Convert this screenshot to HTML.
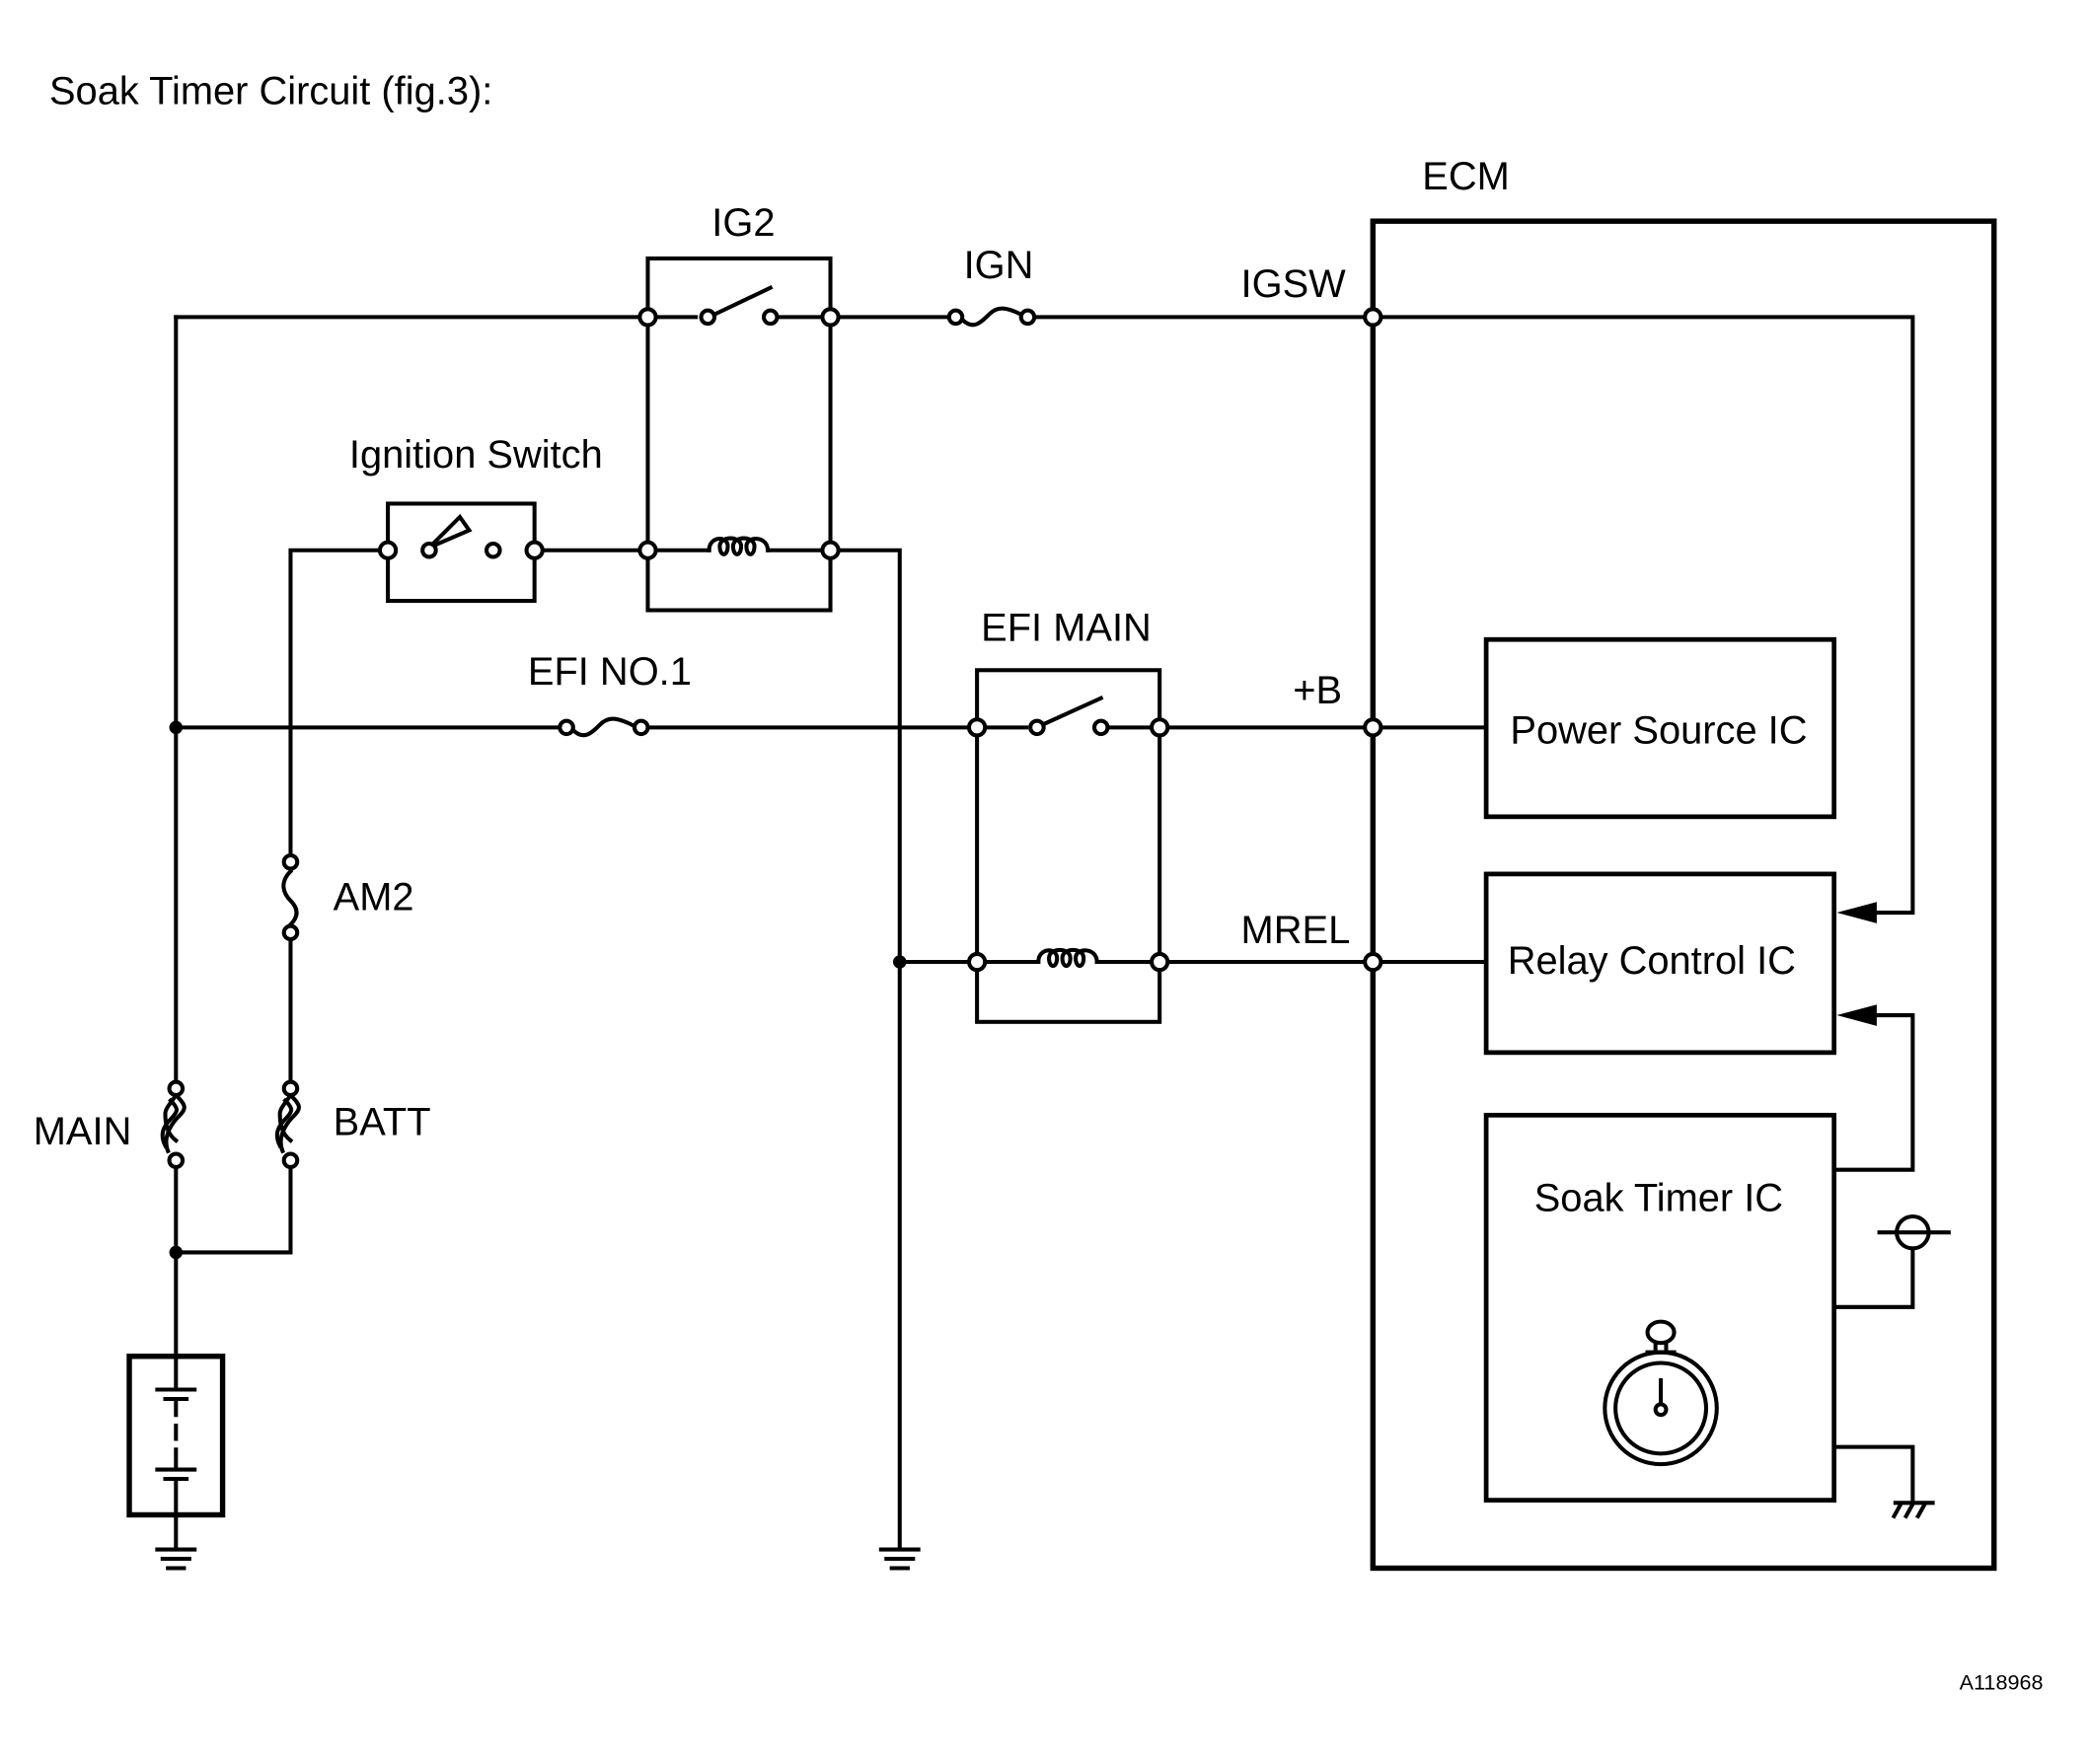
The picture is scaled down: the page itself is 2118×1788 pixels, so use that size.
<!DOCTYPE html>
<html><head><meta charset="utf-8"><style>
html,body{margin:0;padding:0;background:#fff;}
svg{display:block;}
text{font-family:"Liberation Sans",Arial,sans-serif;fill:#000;}
</style></head><body>
<svg width="2118" height="1788" viewBox="0 0 1568 1324" preserveAspectRatio="none" xmlns="http://www.w3.org/2000/svg">
<g fill="none" stroke="#000" stroke-width="3" stroke-linecap="square">
<path d="M132 238V815M132 872V1018M132 1137V1162"/>
<path d="M132 940H218V872M218 815V700M218 647V413H291"/>
<path d="M132 238H486M486 238H522M584 238H623M623 238H712M776 238H1030M1030 238H1435V685H1395"/>
<path d="M401 413H486M486 413H532M576 413H623M623 413H675V1162"/>
<path d="M132 546H420M486 546H733M733 546H770M830 546H870M870 546H1115"/>
<path d="M675 722H733M733 722H779M823 722H870M870 722H1115"/>
<rect x="486" y="194" width="137" height="264"/>
<rect x="733" y="503" width="137" height="264"/>
<rect x="291" y="378" width="110" height="73"/>
<rect x="1030" y="166" width="466" height="1011" stroke-width="4"/>
<rect x="1115" y="480" width="261" height="133" stroke-width="3.5"/>
<rect x="1115" y="656" width="261" height="134" stroke-width="3.5"/>
<rect x="1115" y="837" width="261" height="289" stroke-width="3.5"/>
<path d="M1376 878H1435V762H1395"/>
<path d="M1376 981H1435V937M1410 925H1462"/>
<circle cx="1435" cy="925" r="12"/>
<path d="M1376 1086H1435V1128M1422 1128H1450M1426 1129l-5 9M1435 1129l-5 9M1444 1129l-5 9"/>
<path d="M536 236L578 216"/>
<path d="M782 544L826 524"/>
<path d="M532 413C532 402 546 402 546 410C546 418 540 418 540 410C540 402 556 402 556 410C556 418 550 418 550 410C550 402 566 402 566 410C566 418 560 418 560 410C560 402 576 402 576 413"/>
<path d="M779 722C779 711 793 711 793 719C793 727 787 727 787 719C787 711 803 711 803 719C803 727 797 727 797 719C797 711 813 711 813 719C813 727 807 727 807 719C807 711 823 711 823 722"/>
<path d="M722 240c8 8 14 2 20-4s12-6 24 0"/>
<path d="M430 548c8 8 14 2 20-4s12-6 24 0"/>
<path d="M218 654c-8 8-6 16 0 22s6 12 0 18"/>
<path d="M132 822c8 8 8 10 2 16s-12 16-8 26M132 822c-4 6-8 10-8 14s0 14 8 20M128 826c6 6 6 8 0 14s-8 12-4 20"/>
<path d="M218 822c8 8 8 10 2 16s-12 16-8 26M218 822c-4 6-8 10-8 14s0 14 8 20M214 826c6 6 6 8 0 14s-8 12-4 20"/>
<rect x="97" y="1018" width="70" height="119" stroke-width="4"/>
<path d="M132 1018V1043M118 1043H146M124 1050H140M132 1050V1062M132 1070V1080M132 1088V1103M118 1103H146M124 1110H140M132 1110V1137"/>
<path d="M118 1163H146M122 1170H142M126 1177H138"/>
<path d="M661 1163H689M665 1170H685M669 1177H681"/>
<circle cx="1246" cy="1057" r="42"/>
<circle cx="1246" cy="1057" r="34"/>
<ellipse cx="1246" cy="1000" rx="10" ry="8"/>
<path d="M1242 1008V1015M1250 1008V1015M1236 1015H1256"/>
<path d="M1246 1053V1036"/>
<circle cx="1246" cy="1058" r="4"/>
</g>
<path d="M322 411L345 388L352 398Z" fill="none" stroke="#000" stroke-width="3"/>
<path d="M1378 685L1408 677V693Z M1378 762L1408 754V770Z" fill="#000"/>
<g fill="#000"><circle cx="132" cy="546" r="5"/><circle cx="132" cy="940" r="5"/><circle cx="675" cy="722" r="5"/></g>
<g fill="#fff" stroke="#000" stroke-width="3">
<circle cx="486" cy="238" r="6"/><circle cx="623" cy="238" r="6"/><circle cx="531" cy="238" r="5"/><circle cx="578" cy="238" r="5"/>
<circle cx="486" cy="413" r="6"/><circle cx="623" cy="413" r="6"/>
<circle cx="291" cy="413" r="6"/><circle cx="401" cy="413" r="6"/><circle cx="322" cy="413" r="5"/><circle cx="370" cy="413" r="5"/>
<circle cx="717" cy="238" r="5"/><circle cx="771" cy="238" r="5"/>
<circle cx="425" cy="546" r="5"/><circle cx="481" cy="546" r="5"/>
<circle cx="733" cy="546" r="6"/><circle cx="870" cy="546" r="6"/><circle cx="778" cy="546" r="5"/><circle cx="826" cy="546" r="5"/>
<circle cx="733" cy="722" r="6"/><circle cx="870" cy="722" r="6"/>
<circle cx="1030" cy="238" r="6"/><circle cx="1030" cy="546" r="6"/><circle cx="1030" cy="722" r="6"/>
<circle cx="218" cy="647" r="5"/><circle cx="218" cy="700" r="5"/>
<circle cx="218" cy="817" r="5"/><circle cx="218" cy="871" r="5"/>
<circle cx="132" cy="817" r="5"/><circle cx="132" cy="871" r="5"/>
</g>
<g font-size="29.5">
<text x="37" y="78">Soak Timer Circuit (fig.3):</text>
<text x="1067" y="142">ECM</text>
<text x="534" y="177">IG2</text>
<text x="723" y="209">IGN</text>
<text x="931" y="223">IGSW</text>
<text x="262" y="351">Ignition Switch</text>
<text x="736" y="481">EFI MAIN</text>
<text x="396" y="514">EFI NO.1</text>
<text x="970" y="528">+B</text>
<text x="931" y="708">MREL</text>
<text x="250" y="683">AM2</text>
<text x="250" y="852">BATT</text>
<text x="25" y="859">MAIN</text>
<text x="1133" y="558">Power Source IC</text>
<text x="1131" y="731">Relay Control IC</text>
<text x="1151" y="909">Soak Timer IC</text>
</g>
<text x="1470" y="1268" font-size="16">A118968</text>
</svg>
</body></html>
